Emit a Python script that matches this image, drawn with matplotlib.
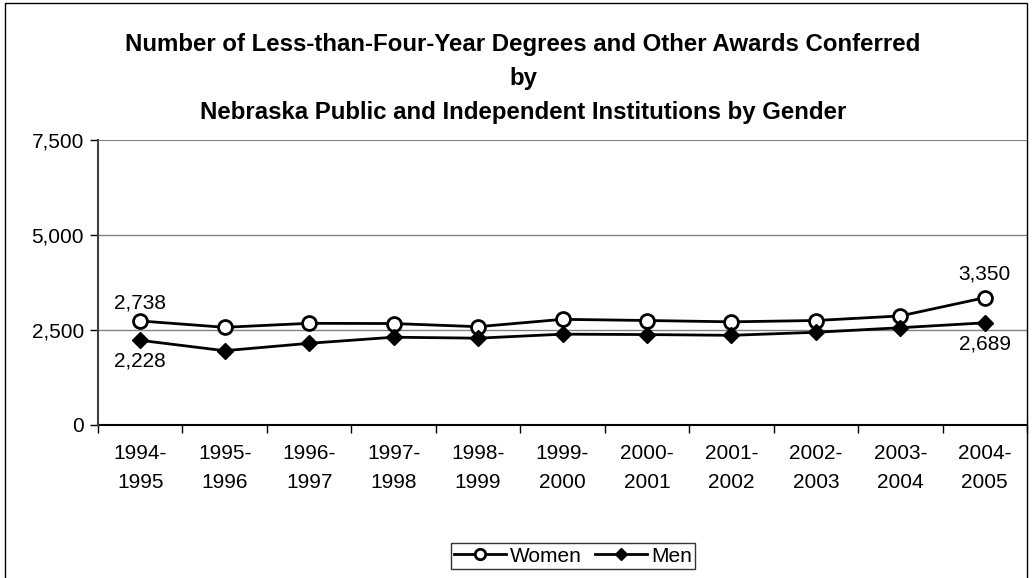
import numpy as np
import matplotlib.pyplot as plt
from matplotlib.patches import Rectangle

plt.rcParams['font.family'] = ['Liberation Sans', 'DejaVu Sans']

years = ['1994-\n1995', '1995-\n1996', '1996-\n1997', '1997-\n1998', '1998-\n1999', '1999-\n2000',
         '2000-\n2001', '2001-\n2002', '2002-\n2003', '2003-\n2004', '2004-\n2005']
women = [2738, 2571, 2676, 2670, 2587, 2781, 2750, 2715, 2750, 2870, 3350]
men = [2228, 1955, 2150, 2310, 2285, 2390, 2380, 2360, 2440, 2560, 2689]

fig = plt.figure(figsize=(10.33, 5.78), dpi=100)
ax = fig.add_axes([98 / 1033, 1 - 425 / 578, (1027 - 98) / 1033, (425 - 140) / 578])

# chart border
fig.patches.append(Rectangle((5 / 1033, -0.1), 1022 / 1033, 1.1 - 3 / 578, transform=fig.transFigure,
                             fill=False, edgecolor='black', linewidth=1))

x = np.arange(len(years))
ax.plot(x, women, color='black', lw=2, marker='o', ms=10, mfc='white', mew=2, label='Women')
ax.plot(x, men, color='black', lw=2, marker='D', ms=8, mfc='black', label='Men')

fs = 15
ax.annotate(f'{women[0]:,}', (x[0], women[0]), xytext=(0, 13), textcoords='offset points',
            ha='center', va='center', fontsize=fs)
ax.annotate(f'{men[0]:,}', (x[0], men[0]), xytext=(0, -15), textcoords='offset points',
            ha='center', va='center', fontsize=fs)
ax.annotate(f'{women[-1]:,}', (x[-1], women[-1]), xytext=(0, 17), textcoords='offset points',
            ha='center', va='center', fontsize=fs)
ax.annotate(f'{men[-1]:,}', (x[-1], men[-1]), xytext=(0, -15), textcoords='offset points',
            ha='center', va='center', fontsize=fs)

ax.set_xlim(-0.5, len(years) - 0.5)
ax.set_ylim(0, 7500)
ax.set_yticks([0, 2500, 5000, 7500])
ax.set_yticklabels(['0', '2,500', '5,000', '7,500'], fontsize=fs)
ax.set_xticks(x)
ax.set_xticklabels(years, fontsize=fs, linespacing=1.65)
ax.set_xticks(np.arange(-0.5, len(years)), minor=True)
ax.tick_params(axis='x', which='major', length=0, pad=14)
ax.tick_params(axis='x', which='minor', length=6, direction='out', width=1)
ax.tick_params(axis='y', length=6, direction='out', width=1, pad=4)

for yv in [2500, 5000]:
    ax.axhline(yv, color='#808080', lw=1, zorder=0)
ax.axhline(7500, color='#808080', lw=1.5, zorder=0)
for side in ['top', 'bottom']:
    ax.spines[side].set_visible(False)
ax.spines['right'].set_color('#808080')
ax.spines['left'].set_color('#404040')
ax.spines['left'].set_linewidth(1.5)
ax.axhline(0, color='black', lw=1.5, clip_on=False)

tfs = 17.3
fig.text(523 / 1033, 1 - 45 / 578, 'Number of Less-than-Four-Year Degrees and Other Awards Conferred',
         ha='center', va='center', fontsize=tfs, fontweight='bold')
fig.text(523 / 1033, 1 - 78 / 578, 'by', ha='center', va='center', fontsize=tfs, fontweight='bold')
fig.text(523 / 1033, 1 - 112 / 578, 'Nebraska Public and Independent Institutions by Gender',
         ha='center', va='center', fontsize=tfs, fontweight='bold')

leg = fig.legend(loc='center', bbox_to_anchor=(573 / 1033, 1 - 556 / 578), ncol=2, fontsize=fs,
                 frameon=True, fancybox=False, edgecolor='black', handlelength=2.5,
                 columnspacing=0.6, handletextpad=0.2, borderpad=0.15, markerscale=0.75)
leg.get_frame().set_linewidth(1)

fig.savefig('out.png', dpi=100)
